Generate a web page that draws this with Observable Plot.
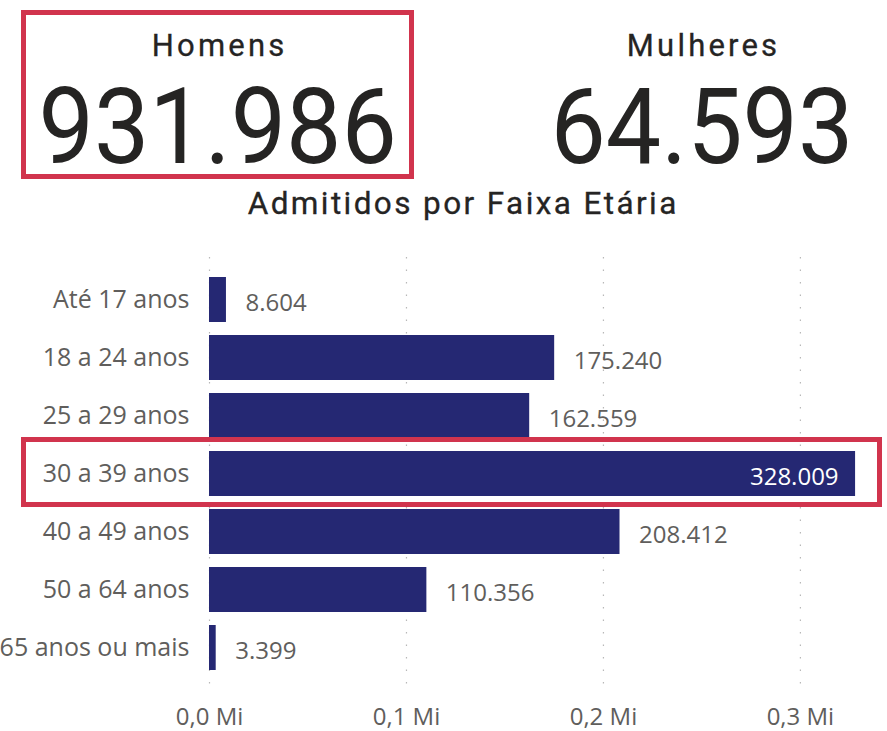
<!DOCTYPE html>
<html>
<head>
<meta charset="utf-8">
<script src="https://cdn.jsdelivr.net/npm/d3@7"></script>
<script src="https://cdn.jsdelivr.net/npm/@observablehq/plot@0.6"></script>
<style>
  html, body { margin: 0; padding: 0; background: #fff; }
  #wrap { position: relative; width: 887px; height: 731px; overflow: hidden; background: #fff; }
  .kpi-label { position: absolute; font-family: "Roboto", "Liberation Sans", sans-serif; font-size: 31px; font-weight: 400; letter-spacing: 3.2px; padding-left: 3.2px; box-sizing: border-box; color: #252423; text-align: center; -webkit-text-stroke: 0.3px #252423; }
  .kpi-value { position: absolute; font-family: "Roboto", "Liberation Sans", sans-serif; font-size: 106px; color: #252423; text-align: center; line-height: 1; }
  .kpi-value span { display: inline-block; transform: scaleX(0.93); }
  .title { position: absolute; font-family: "Roboto", "Liberation Sans", sans-serif; font-size: 31.5px; font-weight: 400; letter-spacing: 2.4px; padding-left: 2.4px; box-sizing: border-box; color: #252423; text-align: center; -webkit-text-stroke: 0.3px #252423; }
  .box { position: absolute; border: 5px solid #D1344D; box-sizing: border-box; }
  #chart { position: absolute; left: 0; top: 230px; }
</style>
</head>
<body>
<div id="wrap">
  <div class="kpi-label" style="left:18px; width:400px; top:27px;">Homens</div>
  <div class="kpi-value" style="left:18px; width:400px; top:74px;"><span id="v1"></span></div>
  <div class="kpi-label" style="left:502px; width:400px; top:27px;">Mulheres</div>
  <div class="kpi-value" style="left:502px; width:400px; top:74px;"><span id="v2"></span></div>
  <div class="title" style="left:0; width:924px; top:185px;">Admitidos por Faixa Etária</div>
  <div id="chart"></div>
  <div class="box" style="left:21px; top:10px; width:393px; height:169px;"></div>
  <div class="box" style="left:21px; top:437px; width:861px; height:70px;"></div>
</div>
<script>
const kpiLabels = ["Homens", "Mulheres"];
const kpiValues = [931986, 64593];

const categories = ["Até 17 anos", "18 a 24 anos", "25 a 29 anos", "30 a 39 anos", "40 a 49 anos", "50 a 64 anos", "65 anos ou mais"];
const values = [8604, 175240, 162559, 328009, 208412, 110356, 3399];
const xTicks = [0, 100000, 200000, 300000];

const locale = d3.formatLocale({decimal: ",", thousands: ".", grouping: [3], currency: ["R$", ""]});
const fmtInt = locale.format(",d");
const fmtMi = v => locale.format(".1f")(v / 1e6) + " Mi";

document.getElementById("v1").textContent = fmtInt(kpiValues[0]);
document.getElementById("v2").textContent = fmtInt(kpiValues[1]);

const data = categories.map((c, i) => ({cat: c, value: values[i]}));
const maxV = d3.max(values);

const plot = Plot.plot({
  width: 887,
  height: 501,
  marginLeft: 209,
  marginRight: 28,
  marginTop: 27,
  marginBottom: 40,
  style: {fontFamily: "'Open Sans', 'Noto Sans', sans-serif", fontSize: "24px", color: "#605E5C", background: "transparent"},
  x: {domain: [0, 330000], ticks: xTicks, tickFormat: fmtMi, label: null},
  y: {domain: categories, paddingInner: 0.224, paddingOuter: 0.35, label: null},
  marks: [
    Plot.gridX(xTicks, {stroke: "#b8b8b8", strokeOpacity: 1, strokeDasharray: "1.5,11", strokeWidth: 1.2}),
    Plot.barX(data, {y: "cat", x: "value", fill: "#252873"}),
    Plot.text(data.filter(d => d.value !== maxV), {y: "cat", x: "value", text: d => fmtInt(d.value), textAnchor: "start", dx: 19, dy: 3, fill: "#605E5C", fontSize: 24}),
    Plot.text(data.filter(d => d.value === maxV), {y: "cat", x: "value", text: d => fmtInt(d.value), textAnchor: "end", dx: -17, dy: 3, fill: "#ffffff", fontSize: 24}),
    Plot.axisY({tickSize: 0, tickPadding: 20, label: null, fill: "#605E5C", fontSize: 25}),
    Plot.axisX({ticks: xTicks, tickFormat: fmtMi, tickSize: 0, tickPadding: 16, label: null, fill: "#605E5C", fontSize: 24})
  ]
});
document.getElementById("chart").appendChild(plot);
</script>
</body>
</html>
